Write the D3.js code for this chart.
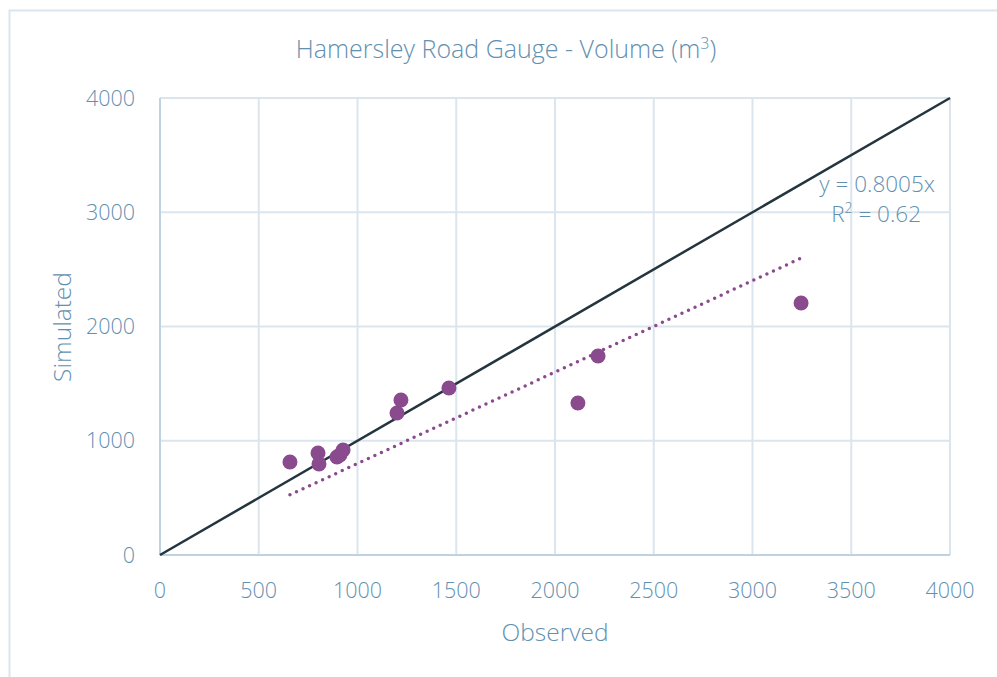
<!DOCTYPE html>
<html>
<head>
<meta charset="utf-8">
<script src="https://cdn.jsdelivr.net/npm/d3@7"></script>
<style>
  html, body { margin: 0; padding: 0; background: #fff; }
  svg text { font-family: "Segoe UI", "Open Sans", "Noto Sans", sans-serif; font-weight: 300; }
</style>
</head>
<body>
<svg id="chart" width="997" height="677"></svg>
<script>
// Observed vs simulated volumes (m³)
const observed  = [658, 800, 805, 896, 911, 927, 1200, 1220, 1463, 2116, 2218, 3246];
const simulated = [814, 893, 797, 858, 875, 919, 1243, 1357, 1462, 1330, 1742, 2206];
const xTicks = [0, 500, 1000, 1500, 2000, 2500, 3000, 3500, 4000];
const yTicks = [0, 1000, 2000, 3000, 4000];
const slope = 0.8005;
const rSquared = "0.62";

const svg = d3.select("#chart");
const textColor = "#6290b1";
const gridColor = "#dbe5ee";
const pointColor = "#8a4a8e";

// outer chart frame
svg.append("rect").attr("x", 9.5).attr("y", 10.5).attr("width", 1100).attr("height", 800)
  .attr("fill", "#fff").attr("stroke", gridColor).attr("stroke-width", 2);

const x = d3.scaleLinear().domain([0, 4000]).range([160, 950]);
const y = d3.scaleLinear().domain([0, 4000]).range([555, 98]);

// gridlines
const g = svg.append("g");
g.selectAll(".vg").data(xTicks.slice(1)).join("line")
  .attr("x1", d => x(d)).attr("x2", d => x(d)).attr("y1", y(0)).attr("y2", y(4000))
  .attr("stroke", gridColor).attr("stroke-width", 2);
g.selectAll(".hg").data(yTicks.slice(1)).join("line")
  .attr("x1", x(0)).attr("x2", x(4000)).attr("y1", d => y(d)).attr("y2", d => y(d))
  .attr("stroke", gridColor).attr("stroke-width", 2);
// axis lines
g.append("line").attr("x1", x(0)).attr("x2", x(0)).attr("y1", y(0)).attr("y2", y(4000))
  .attr("stroke", "#bfd2e2").attr("stroke-width", 2);
g.append("line").attr("x1", x(0)).attr("x2", x(4000)).attr("y1", y(0)).attr("y2", y(0))
  .attr("stroke", "#bfd2e2").attr("stroke-width", 2);

// tick labels
svg.selectAll(".xt").data(xTicks).join("text")
  .attr("x", d => x(d)).attr("y", 598).attr("text-anchor", "middle")
  .attr("font-size", 21.5).attr("fill", textColor).text(d => d);
svg.selectAll(".yt").data(yTicks).join("text")
  .attr("x", 135).attr("y", d => y(d) + 7.5).attr("text-anchor", "end")
  .attr("font-size", 21.5).attr("fill", textColor).text(d => d);

// 1:1 line
svg.append("line").attr("x1", x(0)).attr("y1", y(0)).attr("x2", x(4000)).attr("y2", y(4000))
  .attr("stroke", "#24353f").attr("stroke-width", 2.5);

// regression trendline through origin
const xMin = d3.min(observed), xMax = d3.max(observed);
svg.append("line")
  .attr("x1", x(xMin)).attr("y1", y(slope * xMin))
  .attr("x2", x(xMax)).attr("y2", y(slope * xMax))
  .attr("stroke", pointColor).attr("stroke-width", 3.5)
  .attr("stroke-linecap", "round").attr("stroke-dasharray", "0 7.2");

// points
svg.selectAll(".pt").data(observed).join("circle")
  .attr("cx", d => x(d)).attr("cy", (d, i) => y(simulated[i])).attr("r", 7.5)
  .attr("fill", pointColor);

// equation label
svg.append("text").attr("x", 935).attr("y", 192).attr("text-anchor", "end")
  .attr("font-size", 22.5).attr("fill", textColor).text(`y = ${slope}x`);
const r2 = svg.append("text").attr("x", 921).attr("y", 222).attr("text-anchor", "end")
  .attr("font-size", 22.5).attr("fill", textColor);
r2.append("tspan").text("R");
r2.append("tspan").attr("font-size", 14).attr("dy", -9).text("2");
r2.append("tspan").attr("dy", 9).text(` = ${rSquared}`);

// title
const title = svg.append("text").attr("x", 506).attr("y", 58).attr("text-anchor", "middle")
  .attr("font-size", 25).attr("fill", textColor);
title.append("tspan").text("Hamersley Road Gauge - Volume (m");
title.append("tspan").attr("font-size", 16).attr("dy", -9).text("3");
title.append("tspan").attr("dy", 9).text(")");

// axis titles
svg.append("text").attr("x", 555).attr("y", 641).attr("text-anchor", "middle")
  .attr("font-size", 24.5).attr("fill", textColor).text("Observed");
svg.append("text").attr("transform", "translate(71,327) rotate(-90)").attr("text-anchor", "middle")
  .attr("font-size", 24.5).attr("fill", textColor).text("Simulated");
</script>
</body>
</html>
